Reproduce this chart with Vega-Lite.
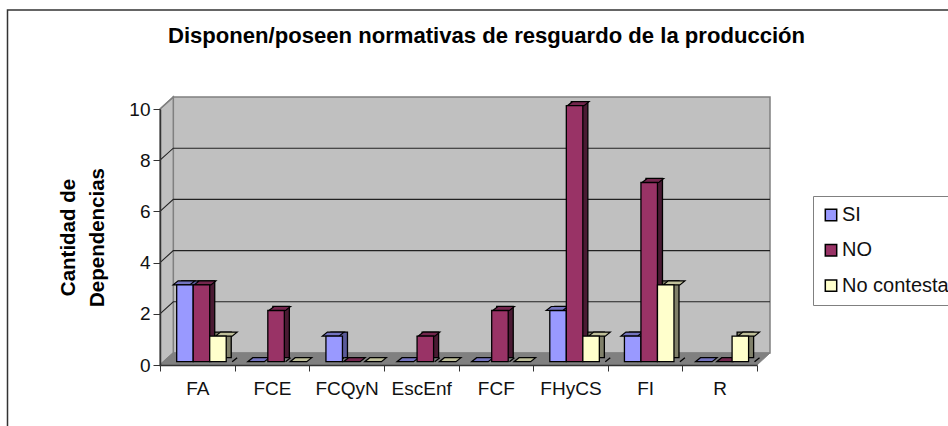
{"$schema":"https://vega.github.io/schema/vega-lite/v6.json","autosize":"none","width":597,"height":256,"padding":{"left":160,"top":109,"right":191,"bottom":61},"background":"white","view":{"stroke":null},
"title":{"text":"Disponen/poseen normativas de resguardo de la producción","font":"Liberation Sans","fontWeight":"bold","fontSize":22.1,"color":"black","anchor":"middle","frame":"group","dx":28,"offset":-41},
"config":{"font":"Liberation Sans"},
"data":{"values":[
{"facultad":"FA","respuesta":"SI","valor":3},{"facultad":"FA","respuesta":"NO","valor":3},{"facultad":"FA","respuesta":"No contesta","valor":1},
{"facultad":"FCE","respuesta":"SI","valor":0},{"facultad":"FCE","respuesta":"NO","valor":2},{"facultad":"FCE","respuesta":"No contesta","valor":0},
{"facultad":"FCQyN","respuesta":"SI","valor":1},{"facultad":"FCQyN","respuesta":"NO","valor":0},{"facultad":"FCQyN","respuesta":"No contesta","valor":0},
{"facultad":"EscEnf","respuesta":"SI","valor":0},{"facultad":"EscEnf","respuesta":"NO","valor":1},{"facultad":"EscEnf","respuesta":"No contesta","valor":0},
{"facultad":"FCF","respuesta":"SI","valor":0},{"facultad":"FCF","respuesta":"NO","valor":2},{"facultad":"FCF","respuesta":"No contesta","valor":0},
{"facultad":"FHyCS","respuesta":"SI","valor":2},{"facultad":"FHyCS","respuesta":"NO","valor":10},{"facultad":"FHyCS","respuesta":"No contesta","valor":1},
{"facultad":"FI","respuesta":"SI","valor":1},{"facultad":"FI","respuesta":"NO","valor":7},{"facultad":"FI","respuesta":"No contesta","valor":3},
{"facultad":"R","respuesta":"SI","valor":0},{"facultad":"R","respuesta":"NO","valor":0},{"facultad":"R","respuesta":"No contesta","valor":1}
]},
"encoding":{
"x":{"field":"facultad","type":"nominal","sort":null,"title":null,"scale":{"domain":["FA","FCE","FCQyN","EscEnf","FCF","FHyCS","FI","R"],"paddingInner":0,"paddingOuter":0},"axis":{"labelAngle":0,"labelFontSize":19,"labelColor":"#111","labelPadding":8,"tickSize":6,"tickColor":"#333","domainColor":"#333","domainWidth":1.5,"tickBand":"extent","grid":false,"zindex":1}},
"y":{"field":"valor","type":"quantitative","title":["Cantidad de","Dependencias"],"scale":{"domain":[0,10],"nice":false,"zero":true},"axis":{"values":[0,2,4,6,8,10],"labelFontSize":19,"labelColor":"#111","labelPadding":3,"tickSize":7,"tickColor":"#333","domainColor":"#333","domainWidth":1.5,"grid":false,"titleFontSize":20.5,"titleFontWeight":"bold","titleColor":"black","titleLineHeight":29,"titlePadding":21,"titleY":128,"zindex":1}}
},
"resolve":{"scale":{"fill":"independent","xOffset":"independent"}},
"layer":[
{"data":{"values":[{"facultad":"FA","valor":0}]},"mark":{"type":"point","filled":true,"opacity":1,"size":4,"fill":null,"stroke":"#333","strokeWidth":1.5,"shape":"M-152.5,70L-152.5,-355L810,-355"},"encoding":{"x":{"field":"facultad","type":"nominal","bandPosition":0}}},
{"data":{"values":[{"facultad":"FA","valor":0}]},"mark":{"type":"point","filled":true,"opacity":1,"size":4,"fill":"#C0C0C0","stroke":"#808080","strokeWidth":1.5,"shape":"M13.3,-12L610,-12L610,-268L13.3,-268Z"},"encoding":{"x":{"field":"facultad","type":"nominal","bandPosition":0}}},
{"data":{"values":[{"facultad":"FA","valor":0}]},"mark":{"type":"point","filled":true,"opacity":1,"size":4,"fill":"#C0C0C0","stroke":"#808080","strokeWidth":1.5,"shape":"M0,0L0,-256L13.3,-268L13.3,-12Z"},"encoding":{"x":{"field":"facultad","type":"nominal","bandPosition":0}}},
{"data":{"values":[{"facultad":"FA","valor":0}]},"mark":{"type":"point","filled":true,"opacity":1,"size":4,"fill":"#808080","stroke":"#808080","strokeWidth":1,"shape":"M0,0L597,0L610,-12L13.3,-12Z"},"encoding":{"x":{"field":"facultad","type":"nominal","bandPosition":0}}},
{"data":{"values":[{"facultad":"FA","valor":2},{"facultad":"FA","valor":4},{"facultad":"FA","valor":6},{"facultad":"FA","valor":8}]},"mark":{"type":"point","filled":false,"opacity":1,"size":4,"stroke":"#222","strokeWidth":1.1,"shape":"M0,0L13.3,-12L610,-12"},"encoding":{"x":{"field":"facultad","type":"nominal","bandPosition":0}}},
{"data":{"values":[{"facultad":"FA","valor":0},{"facultad":"FA","valor":10}]},"mark":{"type":"point","filled":false,"opacity":1,"size":4,"stroke":"#808080","strokeWidth":1.3,"shape":"M0,0L13.3,-12"},"encoding":{"x":{"field":"facultad","type":"nominal","bandPosition":0}}},
{"transform":[{"filter":"datum.valor > 0"}],"mark":{"type":"bar","yOffset":-7.3,"y2Offset":-7.3,"stroke":"black","strokeWidth":1.3},"encoding":{"xOffset":{"field":"respuesta","type":"nominal","sort":null,"scale":{"domain":["SI","NO","No contesta"],"paddingOuter":0.76,"paddingInner":0,"align":0.865}},"y2":{"datum":0},"fill":{"field":"respuesta","type":"nominal","legend":null,"scale":{"domain":["SI","NO","No contesta"],"range":["#5A5A99","#4A1A33","#80806A"]}}}},
{"transform":[{"filter":"datum.valor > 0"}],"mark":{"type":"point","filled":true,"opacity":1,"size":4,"fill":"#808080","stroke":null,"yOffset":-3.3,"shape":"M8.3,1L13.6,1L13.6,-4.4Z"},"encoding":{"xOffset":{"field":"respuesta","type":"nominal","sort":null,"scale":{"domain":["SI","NO","No contesta"],"paddingOuter":0.76,"paddingInner":0,"align":0.665}},"y":{"datum":0}}},
{"transform":[{"filter":"datum.valor > 0"}],"mark":{"type":"point","filled":false,"opacity":1,"size":4,"stroke":"black","strokeWidth":1.3,"yOffset":-3.3,"shape":"M8.3,0L13.3,-4"},"encoding":{"xOffset":{"field":"respuesta","type":"nominal","sort":null,"scale":{"domain":["SI","NO","No contesta"],"paddingOuter":0.76,"paddingInner":0,"align":0.665}},"y":{"datum":0}}},
{"mark":{"type":"point","filled":true,"opacity":1,"size":4,"stroke":"black","strokeWidth":1.2,"yOffset":-3.3,"shape":"M-8.3,0L8.3,0L13.3,-4L-3.3,-4Z"},"encoding":{"xOffset":{"field":"respuesta","type":"nominal","sort":null,"scale":{"domain":["SI","NO","No contesta"],"paddingOuter":0.76,"paddingInner":0,"align":0.665}},"fill":{"field":"respuesta","type":"nominal","legend":null,"scale":{"domain":["SI","NO","No contesta"],"range":["#7373BF","#73264D","#BFBF99"]}}}},
{"transform":[{"filter":"datum.valor > 0"}],"mark":{"type":"bar","yOffset":-3.3,"y2Offset":-3.3,"stroke":"black","strokeWidth":1.3},"encoding":{"xOffset":{"field":"respuesta","type":"nominal","sort":null,"scale":{"domain":["SI","NO","No contesta"],"paddingOuter":0.76,"paddingInner":0,"align":0.665}},"y2":{"datum":0},"fill":{"field":"respuesta","type":"nominal","sort":null,"scale":{"domain":["SI","NO","No contesta"],"range":["#9999FF","#993366","#FFFFCC"]},"legend":{"title":null,"orient":"none","legendX":653,"legendY":87,"symbolType":"square","symbolSize":130,"symbolStrokeColor":"black","symbolStrokeWidth":1.5,"symbolOpacity":1,"symbolOffset":-1,"labelFontSize":20,"labelColor":"#111","labelOffset":1,"rowPadding":15.3,"padding":9,"strokeColor":"#808080","fillColor":"white","labelLimit":200}}}}
]}
